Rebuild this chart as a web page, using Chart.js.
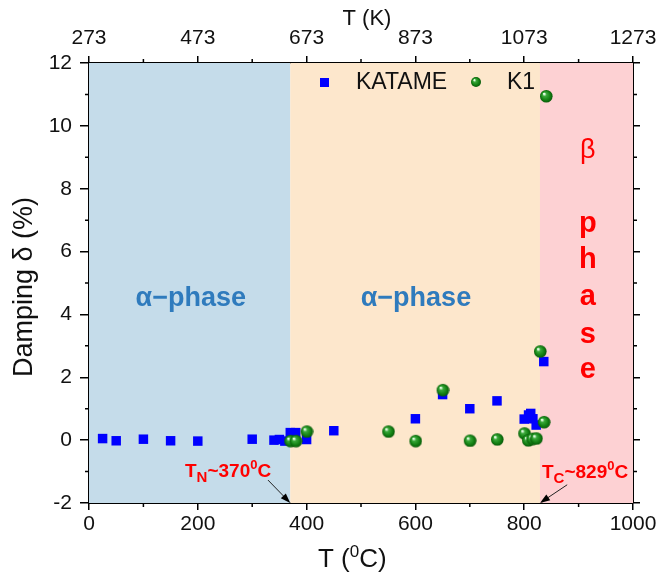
<!DOCTYPE html>
<html>
<head>
<meta charset="utf-8">
<script src="https://cdn.jsdelivr.net/npm/chart.js@4.4.1/dist/chart.umd.min.js"></script>
<style>
  body { margin: 0; background: #fff; }
</style>
</head>
<body>
<canvas id="damping" width="664" height="577"></canvas>
<script>
// KATAME sample (blue squares)
const katameT = [25, 50, 100, 150, 200, 300, 340, 350, 360, 370, 380, 400, 450, 600, 650, 700, 750, 800, 808, 812, 816, 822, 836];
const katameD = [0.05, -0.02, 0.03, -0.02, -0.03, 0.03, 0.0, 0.02, -0.03, 0.24, 0.24, 0.02, 0.3, 0.68, 1.45, 1.0, 1.25, 0.67, 0.8, 0.85, 0.68, 0.48, 2.5];
// K1 sample (green spheres)
const k1T = [370, 380, 400, 550, 600, 650, 700, 750, 800, 807, 815, 822, 829, 836, 840];
const k1D = [-0.02, -0.02, 0.28, 0.28, -0.02, 1.6, -0.01, 0.03, 0.22, 0.0, 0.05, 0.06, 2.83, 0.58, 10.95];

// phase regions: boundaries in degC and fill colours
const phaseBounds = [0, 370, 829, 1000];
const phaseColors = ['#c5dcea', '#fde7cc', '#fdd1d3'];

const xMinorTicks = [100, 300, 500, 700, 900];
const yMinorTicks = [-1, 1, 3, 5, 7, 9, 11];

const FONT = '"Liberation Sans", Arial, sans-serif';

// shaded green ball used as point style
function makeBall(r) {
  const c = document.createElement('canvas');
  c.width = c.height = 2 * r + 2;
  const g = c.getContext('2d');
  const cx = r + 1, cy = r + 1;
  const grad = g.createRadialGradient(cx - r * 0.35, cy - r * 0.4, r * 0.1, cx, cy, r);
  grad.addColorStop(0, '#e8ffe8');
  grad.addColorStop(0.25, '#3aa83a');
  grad.addColorStop(0.7, '#128012');
  grad.addColorStop(1, '#0a5a0a');
  g.fillStyle = grad;
  g.beginPath();
  g.arc(cx, cy, r, 0, Math.PI * 2);
  g.fill();
  return c;
}
const ball = makeBall(6.3);
const legendBall = makeBall(5);

const toPoints = (xs, ys) => xs.map((x, i) => ({ x: x, y: ys[i] }));

// background bands behind the data
const phaseBands = {
  id: 'phaseBands',
  beforeDatasetsDraw(chart) {
    const { ctx, chartArea, scales } = chart;
    ctx.save();
    for (let i = 0; i < phaseColors.length; i++) {
      const x0 = scales.x.getPixelForValue(phaseBounds[i]);
      const x1 = scales.x.getPixelForValue(phaseBounds[i + 1]);
      ctx.fillStyle = phaseColors[i];
      ctx.fillRect(x0, chartArea.top, x1 - x0, chartArea.bottom - chartArea.top);
    }
    ctx.restore();
  }
};

function drawArrow(ctx, x0, y0, x1, y1) {
  const a = Math.atan2(y1 - y0, x1 - x0);
  ctx.strokeStyle = '#222';
  ctx.fillStyle = '#000';
  ctx.lineWidth = 1;
  ctx.beginPath();
  ctx.moveTo(x0, y0);
  ctx.lineTo(x1 - 8 * Math.cos(a), y1 - 8 * Math.sin(a));
  ctx.stroke();
  ctx.beginPath();
  ctx.moveTo(x1, y1);
  ctx.lineTo(x1 - 10 * Math.cos(a) + 3.5 * Math.sin(a), y1 - 10 * Math.sin(a) - 3.5 * Math.cos(a));
  ctx.lineTo(x1 - 10 * Math.cos(a) - 3.5 * Math.sin(a), y1 - 10 * Math.sin(a) + 3.5 * Math.cos(a));
  ctx.closePath();
  ctx.fill();
}

// text pieces with sub/superscripts: [text, shift, sizeFactor]
function drawRich(ctx, parts, x, y, size, weight, color) {
  ctx.fillStyle = color;
  ctx.textBaseline = 'alphabetic';
  ctx.textAlign = 'left';
  let cx = x;
  parts.forEach(([t, shift, f]) => {
    ctx.font = weight + ' ' + Math.round(size * f) + 'px ' + FONT;
    ctx.fillText(t, cx, y + shift);
    cx += ctx.measureText(t).width;
  });
}

const decorations = {
  id: 'decorations',
  afterDraw(chart) {
    const { ctx, chartArea, scales } = chart;
    const xs = scales.x, ys = scales.y;
    ctx.save();

    // minor ticks
    ctx.strokeStyle = '#000';
    ctx.lineWidth = 1.5;
    ctx.beginPath();
    xMinorTicks.forEach(v => {
      const px = xs.getPixelForValue(v);
      ctx.moveTo(px, chartArea.bottom); ctx.lineTo(px, chartArea.bottom + 4);
      ctx.moveTo(px, chartArea.top); ctx.lineTo(px, chartArea.top - 4);
    });
    yMinorTicks.forEach(v => {
      const py = ys.getPixelForValue(v);
      ctx.moveTo(chartArea.left, py); ctx.lineTo(chartArea.left - 4, py);
      ctx.moveTo(chartArea.right, py); ctx.lineTo(chartArea.right + 4, py);
    });
    ctx.stroke();

    // axis titles
    ctx.fillStyle = '#111';
    ctx.font = '27px ' + FONT;
    ctx.textAlign = 'center';
    ctx.textBaseline = 'alphabetic';
    ctx.save();
    ctx.translate(32, (chartArea.top + chartArea.bottom) / 2 + 4);
    ctx.rotate(-Math.PI / 2);
    ctx.fillText('Damping \u03b4 (%)', 0, 0);
    ctx.restore();
    ctx.textBaseline = 'middle';
    ctx.font = '22px ' + FONT;
    ctx.fillText('T (K)', 367, 19);
    drawRich(ctx, [['T (', 0, 1], ['0', -10, 0.65], ['C)', 0, 1]], 318, 567, 26, 'normal', '#111');

    // phase labels
    ctx.textAlign = 'center';
    ctx.textBaseline = 'middle';
    ctx.fillStyle = '#2f7bbd';
    ctx.font = 'bold 27px ' + FONT;
    ctx.fillText('\u03b1\u2212phase', xs.getPixelForValue(187), ys.getPixelForValue(4.5));
    ctx.fillText('\u03b1\u2212phase', xs.getPixelForValue(601), ys.getPixelForValue(4.5));
    ctx.fillStyle = '#ff0000';
    ctx.textBaseline = 'alphabetic';
    ctx.font = '27px ' + FONT;
    ctx.fillText('\u03b2', xs.getPixelForValue(917), ys.getPixelForValue(8.97));
    ctx.font = 'bold 29px ' + FONT;
    const letters = ['p', 'h', 'a', 's', 'e'];
    const letterY = [6.62, 5.48, 4.3, 3.09, 1.97];
    letters.forEach((l, i) => ctx.fillText(l, xs.getPixelForValue(917), ys.getPixelForValue(letterY[i])));

    // transition temperatures
    drawRich(ctx, [['T', 0, 1], ['N', 5, 0.8], ['~370', 0, 1], ['0', -8, 0.7], ['C', 0, 1]], 185, 477, 19, 'bold', '#ff0000');
    drawArrow(ctx, xs.getPixelForValue(329), ys.getPixelForValue(-1.27), xs.getPixelForValue(370), ys.getPixelForValue(-2));
    drawRich(ctx, [['T', 0, 1], ['C', 5, 0.8], ['~829', 0, 1], ['0', -8, 0.7], ['C', 0, 1]], 542, 478, 19, 'bold', '#ff0000');
    drawArrow(ctx, xs.getPixelForValue(879), ys.getPixelForValue(-1.42), xs.getPixelForValue(829), ys.getPixelForValue(-2));

    // legend
    ctx.fillStyle = '#0000ff';
    ctx.fillRect(320, 78, 9, 9);
    ctx.fillStyle = '#111';
    ctx.font = '23px ' + FONT;
    ctx.textAlign = 'left';
    ctx.textBaseline = 'middle';
    ctx.fillText('KATAME', 356, 83);
    ctx.drawImage(legendBall, 470, 76);
    ctx.fillText('K1', 507, 83);

    ctx.restore();
  }
};

const tickFont = { family: FONT, size: 21 };
const plainNumber = v => String(v);
const axisGrid = { drawOnChartArea: false, drawTicks: true, tickLength: 7, color: '#000', lineWidth: 1.5 };
const axisBorder = { display: true, color: '#000', width: 2 };

new Chart(document.getElementById('damping'), {
  type: 'scatter',
  data: {
    datasets: [
      {
        label: 'K1',
        data: toPoints(k1T, k1D),
        pointStyle: ball,
        order: 0
      },
      {
        label: 'KATAME',
        data: toPoints(katameT, katameD),
        pointStyle: 'rect',
        pointRadius: 6.7,
        backgroundColor: '#0000ff',
        borderColor: '#0000ff',
        borderWidth: 0,
        order: 1
      }
    ]
  },
  options: {
    responsive: false,
    animation: false,
    layout: { padding: 0 },
    plugins: { legend: { display: false }, tooltip: { enabled: false } },
    scales: {
      x: {
        type: 'linear', position: 'bottom', min: 0, max: 1000,
        ticks: { stepSize: 200, font: tickFont, color: '#111', padding: 2, maxRotation: 0, callback: plainNumber },
        grid: axisGrid, border: axisBorder,
        afterFit: s => { s.height = 74; }
      },
      x2: {
        type: 'linear', position: 'top', min: 273, max: 1273,
        ticks: { stepSize: 200, font: tickFont, color: '#111', padding: 5, maxRotation: 0, callback: plainNumber },
        grid: axisGrid, border: axisBorder,
        afterFit: s => { s.height = 63; }
      },
      y: {
        type: 'linear', position: 'left', min: -2, max: 12,
        ticks: { stepSize: 2, font: tickFont, color: '#111', padding: 8, callback: plainNumber },
        grid: Object.assign({}, axisGrid, { tickLength: 9 }), border: axisBorder,
        afterFit: s => { s.width = 89; }
      },
      y2: {
        type: 'linear', position: 'right', min: -2, max: 12,
        ticks: { stepSize: 2, display: false },
        grid: axisGrid, border: axisBorder,
        afterFit: s => { s.width = 31; }
      }
    }
  },
  plugins: [phaseBands, decorations]
});
</script>
</body>
</html>
